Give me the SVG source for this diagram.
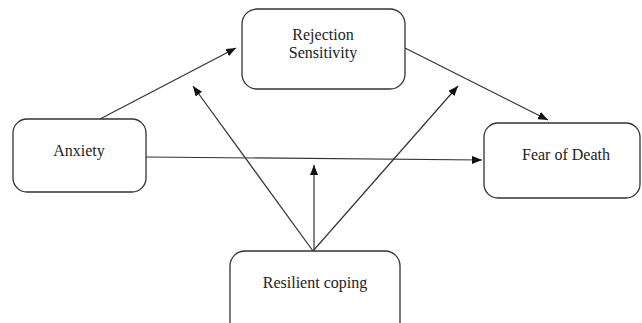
<svg xmlns="http://www.w3.org/2000/svg" width="642" height="323" viewBox="0 0 642 323">
  <style>
    .box { fill: #ffffff; stroke: #333333; stroke-width: 1.3; }
    .lbl { font-family: "Liberation Serif", "Times New Roman", serif; font-size: 16px; fill: #222222; text-anchor: middle; }
    .edge { stroke: #333333; stroke-width: 1.2; fill: none; marker-end: url(#arr); }
  </style>
  <defs>
    <marker id="arr" viewBox="0 0 10 8" refX="10" refY="4" markerWidth="10" markerHeight="8" markerUnits="userSpaceOnUse" orient="auto">
      <path d="M0,0 L10,4 L0,8 Z" fill="#111111"/>
    </marker>
  </defs>
  <rect width="642" height="323" fill="#ffffff"/>
  <g id="connectors">
    <line class="edge" x1="100" y1="119" x2="236" y2="48"/>
    <line class="edge" x1="313" y1="251" x2="193" y2="86"/>
    <line class="edge" x1="314" y1="251" x2="314" y2="165"/>
    <line class="edge" x1="313" y1="251" x2="458" y2="86"/>
    <line class="edge" x1="405" y1="48" x2="548" y2="120"/>
    <line class="edge" x1="145" y1="157" x2="482" y2="160"/>
  </g>
  <g id="rejection">
    <rect class="box" x="242" y="9" width="163" height="80" rx="15"/>
    <text class="lbl" x="323" y="40">Rejection</text>
    <text class="lbl" x="323" y="58">Sensitivity</text>
  </g>
  <g id="anxiety">
    <rect class="box" x="13" y="119" width="133" height="73" rx="14"/>
    <text class="lbl" x="79" y="156">Anxiety</text>
  </g>
  <g id="fear">
    <rect class="box" x="484" y="123" width="156" height="75" rx="14"/>
    <text class="lbl" x="566" y="160">Fear of Death</text>
  </g>
  <g id="resilient">
    <rect class="box" x="230" y="251" width="170" height="90" rx="15"/>
    <text class="lbl" x="315" y="288">Resilient coping</text>
  </g>
</svg>
